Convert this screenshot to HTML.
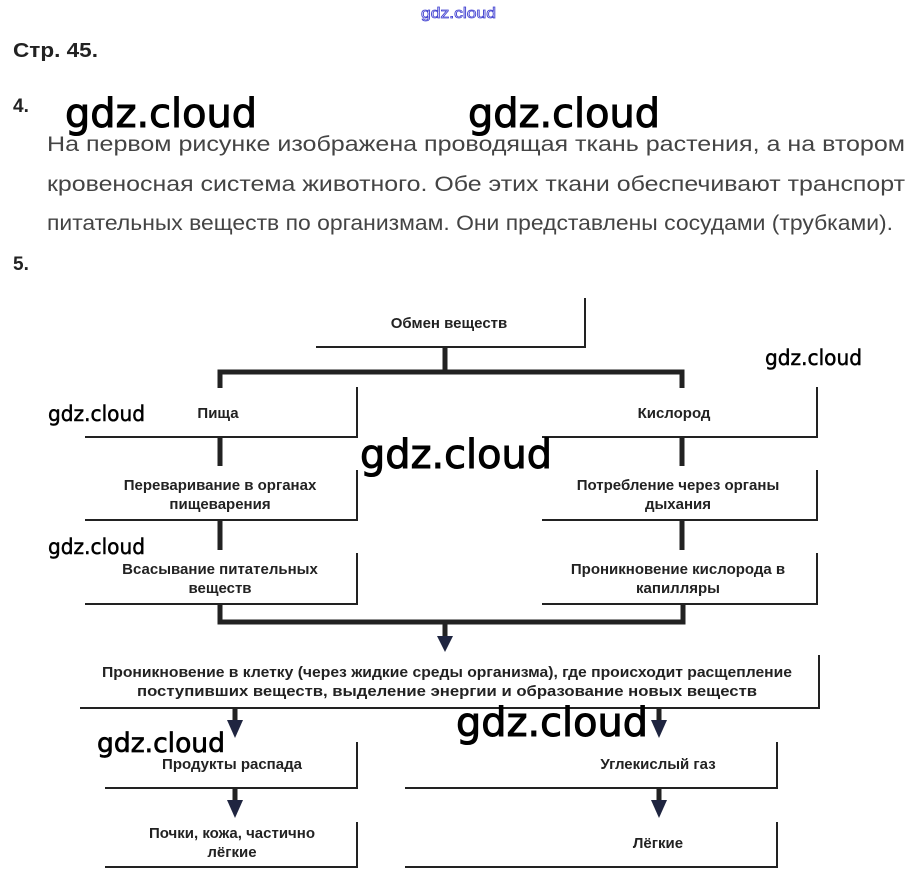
<!DOCTYPE html>
<html><head><meta charset="utf-8"><style>html,body{margin:0;padding:0;background:#fff}svg{display:block}</style></head>
<body>
<svg width="916" height="886" viewBox="0 0 916 886" xmlns="http://www.w3.org/2000/svg" font-family="Liberation Sans, sans-serif">
<rect width="916" height="886" fill="#fff"/>
<text x="421" y="18" font-size="15" fill="#fff" stroke="#4040d0" stroke-width="0.8" textLength="75" lengthAdjust="spacingAndGlyphs">gdz.cloud</text>
<text x="13" y="57" font-size="20" font-weight="bold" fill="#222" textLength="85" lengthAdjust="spacingAndGlyphs">Стр. 45.</text>
<text x="13" y="112" font-size="19" font-weight="bold" fill="#222">4.</text>
<text x="13" y="270" font-size="19" font-weight="bold" fill="#222">5.</text>
<g font-size="21" fill="#444">
<text x="47" y="151" textLength="858" lengthAdjust="spacingAndGlyphs">На  первом  рисунке  изображена  проводящая  ткань  растения,  а  на  втором</text>
<text x="47" y="191" textLength="858" lengthAdjust="spacingAndGlyphs">кровеносная  система  животного.  Обе  этих  ткани  обеспечивают  транспорт</text>
<text x="47" y="230" textLength="846" lengthAdjust="spacingAndGlyphs">питательных веществ по организмам. Они представлены сосудами (трубками).</text>
</g>
<g stroke="#222" fill="none">
<path d="M316 347H585V298" stroke-width="2"/>
<path d="M445 347V372M220 388V372H682V388" stroke-width="5"/>
<path d="M85 437H357V387M85 520H357V470M85 604H357V553" stroke-width="2"/>
<path d="M220 437V466M220 520V550" stroke-width="5"/>
<path d="M542 437H817V387M542 520H817V470M542 604H817V553" stroke-width="2"/>
<path d="M682 437V466M682 520V550" stroke-width="5"/>
<path d="M220 604V622H683V604" stroke-width="5"/>
<path d="M445 622V640" stroke-width="5"/>
<path d="M80 708H819V655" stroke-width="2"/>
<path d="M235 708V724M659 708V724M235 788V804M659 788V804" stroke-width="5"/>
<path d="M105 788H357V742M105 867H357V822M405 788H777V742M405 867H777V822" stroke-width="2"/>
</g>
<g fill="#1f2540">
<path d="M437 636H453L445 652Z"/>
<path d="M227 720H243L235 738Z"/>
<path d="M651 720H667L659 738Z"/>
<path d="M227 800H243L235 818Z"/>
<path d="M651 800H667L659 818Z"/>
</g>
<g font-size="15" font-weight="bold" fill="#222" text-anchor="middle">
<text x="449" y="328">Обмен веществ</text>
<text x="218" y="418">Пища</text>
<text x="220" y="490">Переваривание в органах</text>
<text x="220" y="509">пищеварения</text>
<text x="220" y="574">Всасывание питательных</text>
<text x="220" y="593">веществ</text>
<text x="674" y="418">Кислород</text>
<text x="678" y="490">Потребление через органы</text>
<text x="678" y="509">дыхания</text>
<text x="678" y="574">Проникновение кислорода в</text>
<text x="678" y="593">капилляры</text>
<text x="447" y="677" textLength="690" lengthAdjust="spacingAndGlyphs">Проникновение в клетку (через жидкие среды организма), где происходит расщепление</text>
<text x="447" y="696" textLength="620" lengthAdjust="spacingAndGlyphs">поступивших веществ, выделение энергии и образование новых веществ</text>
<text x="232" y="769">Продукты распада</text>
<text x="658" y="769">Углекислый газ</text>
<text x="232" y="838">Почки, кожа,  частично</text>
<text x="232" y="857">лёгкие</text>
<text x="658" y="848">Лёгкие</text>
</g>
<g fill="#000" stroke="#000" font-family="DejaVu Sans, sans-serif">
<text x="65" y="127" font-size="40" stroke-width="1" textLength="192" lengthAdjust="spacingAndGlyphs">gdz.cloud</text>
<text x="468" y="127" font-size="40" stroke-width="1" textLength="192" lengthAdjust="spacingAndGlyphs">gdz.cloud</text>
<text x="360" y="468" font-size="40" stroke-width="1" textLength="192" lengthAdjust="spacingAndGlyphs">gdz.cloud</text>
<text x="456" y="736" font-size="40" stroke-width="1" textLength="192" lengthAdjust="spacingAndGlyphs">gdz.cloud</text>
<text x="765" y="365" font-size="21" stroke-width="0.5" textLength="97" lengthAdjust="spacingAndGlyphs">gdz.cloud</text>
<text x="48" y="421" font-size="21" stroke-width="0.5" textLength="97" lengthAdjust="spacingAndGlyphs">gdz.cloud</text>
<text x="48" y="554" font-size="21" stroke-width="0.5" textLength="97" lengthAdjust="spacingAndGlyphs">gdz.cloud</text>
<text x="97" y="752" font-size="27" stroke-width="0.7" textLength="128" lengthAdjust="spacingAndGlyphs">gdz.cloud</text>
</g>
</svg>
</body></html>
